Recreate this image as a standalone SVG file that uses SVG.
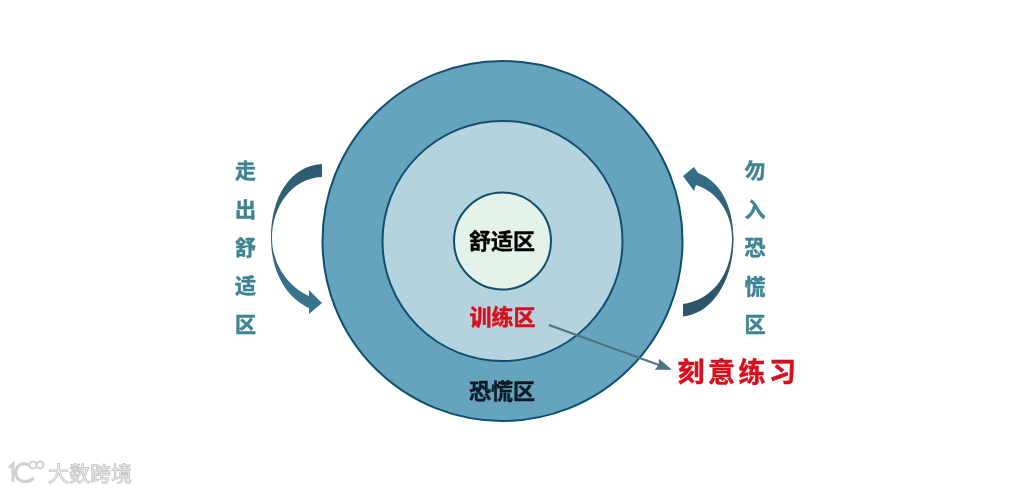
<svg xmlns="http://www.w3.org/2000/svg" width="1012" height="491" viewBox="0 0 1012 491">
<defs>
<linearGradient id="la" x1="0" y1="0" x2="0" y2="1"><stop offset="0" stop-color="#2f5a70"/><stop offset="0.55" stop-color="#2f6a80"/><stop offset="1" stop-color="#3a7690"/></linearGradient>
<linearGradient id="ra" x1="0" y1="1" x2="0" y2="0"><stop offset="0" stop-color="#2b5468"/><stop offset="0.55" stop-color="#2f5a6c"/><stop offset="1" stop-color="#33708a"/></linearGradient>
<marker id="tip" markerWidth="18" markerHeight="14" refX="14" refY="6" orient="auto" markerUnits="userSpaceOnUse"><path d="M0 0L16 6L0 12L2 6Z" fill="#4b7480"/></marker>
<filter id="soft" x="-10%" y="-10%" width="120%" height="120%"><feGaussianBlur stdDeviation="0.5"/></filter>
<filter id="glow" x="-10%" y="-20%" width="120%" height="140%"><feGaussianBlur stdDeviation="0.4"/></filter>
</defs>
<style>
text{font-family:"Noto Sans CJK SC","Noto Sans",sans-serif;font-weight:700;text-anchor:middle;filter:url(#glow)}
.ring{stroke:#0f5070;stroke-width:2}
.side{font-size:21px;fill:#3f8394;stroke:#3f8394;stroke-width:.5px}
.zone{font-size:22px;fill:#0c1a26;stroke:#0c1a26;stroke-width:.4px}
.red{fill:#d9101c;stroke:#d9101c;stroke-width:.5px}
.mark{font-size:21px;fill:#fff;stroke:#c4c4c4;stroke-width:.9px;font-weight:400;text-anchor:start}
</style>
<rect width="1012" height="491" fill="#fff"/>
<g id="zone-panic"><circle class="ring" cx="502.500" cy="241" r="180" fill="#65a4bc"/></g>
<g id="zone-train"><circle class="ring" cx="502.500" cy="241" r="120" fill="#b5d2df"/></g>
<g id="zone-comfort"><circle class="ring" cx="502.500" cy="241" r="48.500" fill="#e4f2ea"/></g>
<g id="connectors">
<path id="arrow-left" fill="url(#la)" d="M322 164C290 166 271 197 271 238C271 270 285 297 309 308L309 314L322 303L309 290L309 296C289 287 272 265 272 238C272 208 291 178 322 177Z"/>
<path id="arrow-right" fill="url(#ra)" d="M683 304C712 300 732 275 732 238C732 214 718 192 696 185L694 191L683 176L694 167L698 173C720 181 733 205 733.500 238C734 280 712 314 683 316.500Z"/>
<path id="pointer" d="M549 325L670 369" fill="none" stroke="#4b7480" stroke-width="2" marker-end="url(#tip)"/>
</g>
<g id="label-comfort"><text class="zone" x="502" y="249" style="fill:#000;stroke:#000">舒适区</text></g>
<g id="label-train"><text class="zone red" x="502.500" y="325">训练区</text></g>
<g id="label-panic"><text class="zone" x="502" y="399">恐慌区</text></g>
<g id="label-out">
<text class="side" x="245.500" y="178">走</text><text class="side" x="245.500" y="217">出</text><text class="side" x="245.500" y="255">舒</text><text class="side" x="245.500" y="293">适</text><text class="side" x="245.500" y="332">区</text>
</g>
<g id="label-in">
<text class="side" x="755" y="178">勿</text><text class="side" x="755" y="217">入</text><text class="side" x="755" y="255">恐</text><text class="side" x="755" y="294">慌</text><text class="side" x="755" y="332">区</text>
</g>
<g id="label-practice"><text class="red" x="738.500" y="382" font-size="27" letter-spacing="3.500">刻意练习</text></g>
<g id="watermark" filter="url(#soft)">
<path d="M9 468L13 464L13 482M30 466C22 460 15 467 16 474C17 482 27 484 34 478" fill="none" stroke="#d0d0d0" stroke-width="3"/>
<circle cx="33" cy="465" r="3.500" fill="#fff" stroke="#d0d0d0" stroke-width="2"/><circle cx="40" cy="465" r="3.500" fill="#fff" stroke="#d0d0d0" stroke-width="2"/>
<text class="mark" x="48" y="481">大数跨境</text>
</g>
</svg>
